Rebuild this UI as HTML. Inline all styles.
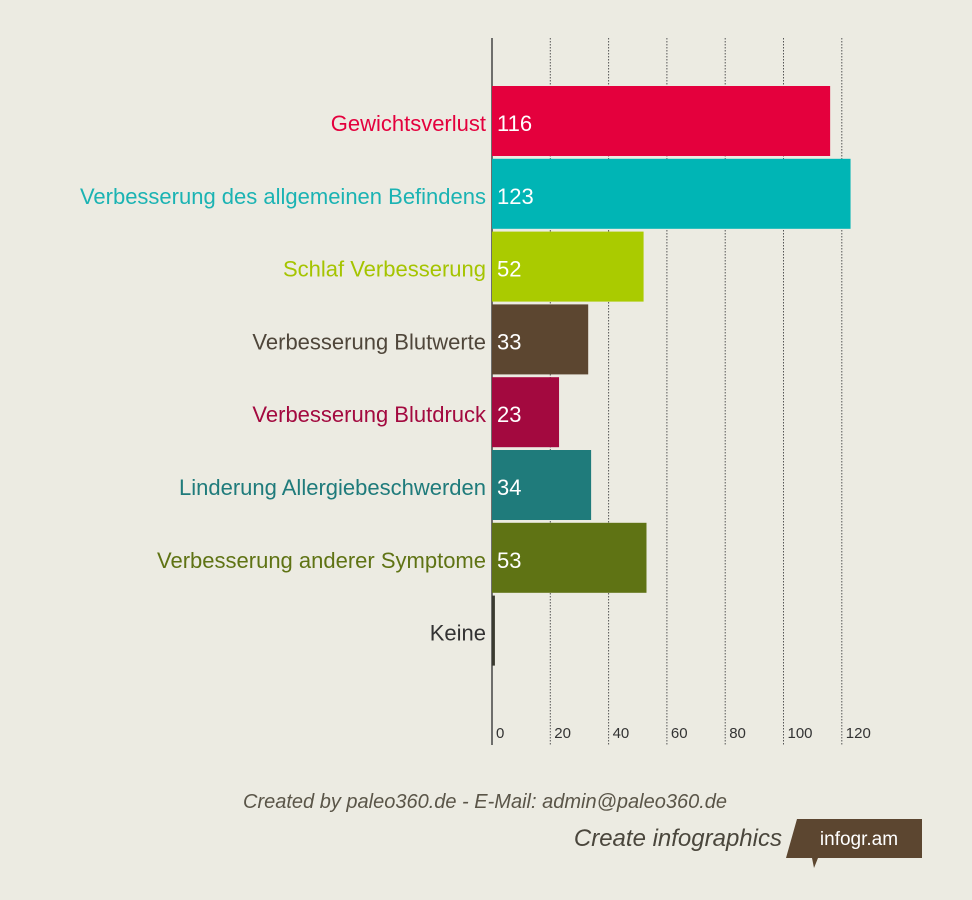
<!DOCTYPE html>
<html><head><meta charset="utf-8"><style>
body{margin:0;background:#ecebe2;width:972px;height:900px;overflow:hidden;font-family:"Liberation Sans Narrow","Liberation Sans",sans-serif;}
svg{display:block}
</style></head><body>
<svg width="972" height="900">
<g id="grid"></g><g id="bars"></g>
<text x="243" y="808" font-size="20" font-style="italic" fill="#5a5548" textLength="484" font-family="Liberation Sans Narrow, Liberation Sans, sans-serif">Created by paleo360.de - E-Mail: admin@paleo360.de</text>
<text x="782" y="846" text-anchor="end" font-size="24" font-style="italic" fill="#4a463c" font-family="Liberation Sans Narrow, Liberation Sans, sans-serif">Create infographics</text>
<g><polygon points="797,819 922,819 922,858 818,858 814,868 812,858 786,858" fill="#5c4630"/>
<text x="859" y="845" text-anchor="middle" font-size="19" fill="#fff" font-family="Liberation Sans Narrow, Liberation Sans, sans-serif">infogr.am</text></g>
</svg>
<script>
const categories=["Gewichtsverlust","Verbesserung des allgemeinen Befindens","Schlaf Verbesserung","Verbesserung Blutwerte","Verbesserung Blutdruck","Linderung Allergiebeschwerden","Verbesserung anderer Symptome","Keine"];
const values=[116,123,52,33,23,34,53,1];
const colors=["#e4003d","#00b5b5","#aacb00","#5c4630","#a3093f","#1f7b7b","#5f7314","#3a3a30"];
const labelColors=["#e4003d","#1bb3b3","#a5c400","#4f463a","#a3093f","#1f7b7b","#5f7314","#333"];
const ticks=[0,20,40,60,80,100,120];
const NS="http://www.w3.org/2000/svg";
const x0=492,k=2.915,y0=86,step=72.8,bh=70;
const X=v=>x0+v*k, Y=i=>y0+i*step;
function mk(t,a,p){const e=document.createElementNS(NS,t);for(const n in a)e.setAttribute(n,a[n]);p.appendChild(e);return e;}
const g=document.getElementById('grid'),b=document.getElementById('bars');
ticks.forEach(t=>{
 if(t>0){const l=mk('line',{x1:X(t),x2:X(t),y1:38,y2:745,stroke:'#555','stroke-dasharray':'1.5,1.5','stroke-width':1},g);
 
 }
 const tx=mk('text',{x:X(t)+4,y:738,'font-size':15,fill:'#333'},g);tx.textContent=t;
 
 
});
const ax=mk('line',{x1:x0,x2:x0,y1:38,y2:745,stroke:'#444','stroke-width':1.5},g);


categories.forEach((c,i)=>{
 const r=mk('rect',{x:x0,y:Y(i),width:Math.max(X(values[i])-x0,2.5),height:bh,fill:colors[i]},b);
 
 
 const l=mk('text',{x:486,y:Y(i)+bh/2+10,'text-anchor':'end','font-size':22,fill:labelColors[i]},b);l.textContent=c;
 
 
 if(values[i]>=5){const v=mk('text',{x:x0+5,y:Y(i)+bh/2+10,'font-size':22,fill:'#fff'},b);v.textContent=values[i];
 
 }
});
</script>
</body></html>
